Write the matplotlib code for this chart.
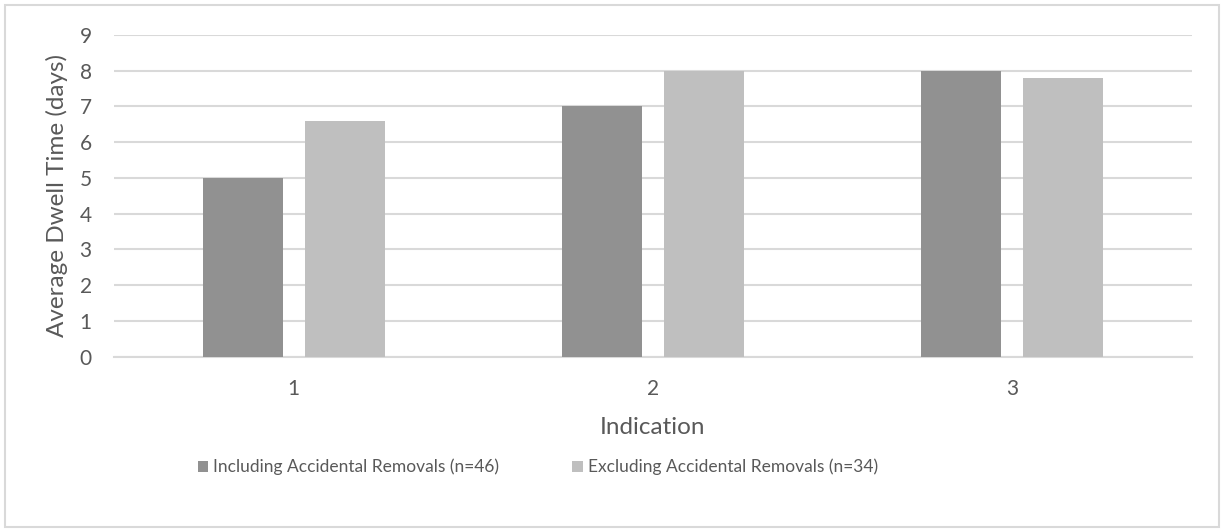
import matplotlib.pyplot as plt
import numpy as np
from matplotlib.patches import Rectangle

# average dwell time per indication
indications = ['1', '2', '3']
including = [5.0, 7.0, 8.0]
excluding = [6.6, 8.0, 7.8]
labels = ['Including Accidental Removals (n=46)', 'Excluding Accidental Removals (n=34)']

textColor = '#595959'
gridColor = '#d9d9d9'

plt.rcParams['font.family'] = ['Lato', 'DejaVu Sans']

fig = plt.figure(figsize=(12.22, 5.32), dpi=100)
axH = (356.7 - 35) / 532
ax = fig.add_axes([114 / 1222, 1 - 356.7 / 532, 1078 / 1222, axH])

x = np.arange(len(indications))
barWidth = 0.223
offset = 0.142
ax.bar(x - offset, including, barWidth, color='#919191', label=labels[0], zorder=3)
ax.bar(x + offset, excluding, barWidth, color='#bfbfbf', label=labels[1], zorder=3)

ax.set_xlim(-0.5, 2.5)
ax.set_ylim(0, 9)
ax.set_yticks(range(0, 10))
ax.set_xticks(x)
ax.set_xticklabels(indications)
ax.yaxis.grid(True, color=gridColor, linewidth=1.5, zorder=0)
for side in ['top', 'right', 'left']:
    ax.spines[side].set_visible(False)
ax.spines['bottom'].set_color(gridColor)
ax.spines['bottom'].set_linewidth(1.5)
ax.tick_params(axis='both', length=0, labelsize=15, labelcolor=textColor)
ax.tick_params(axis='x', pad=16)
ax.tick_params(axis='y', pad=16)

ax.set_xlabel('Indication', fontsize=17.5, color=textColor, va='center')
ax.xaxis.set_label_coords(0.5, (356.7 - 427) / (axH * 532))
ax.set_ylabel('Average Dwell Time (days)', fontsize=17.5, color=textColor,
              ha='center', va='center')
ax.yaxis.set_label_coords((57 - 114) / 1078, 0.5)

fig.legend(loc='center', bbox_to_anchor=(538 / 1222, 1 - 467 / 532), ncol=2,
           frameon=False, fontsize=12.5, labelcolor=textColor, handlelength=0.6,
           handleheight=0.6, handletextpad=0.3, columnspacing=4.2)

# chart frame
fig.patches.append(Rectangle((5 / 1222, 5 / 532), 1214 / 1222, 522 / 532,
                             transform=fig.transFigure, fill=False,
                             edgecolor=gridColor, linewidth=1.5))

fig.savefig('out.png', dpi=100)
